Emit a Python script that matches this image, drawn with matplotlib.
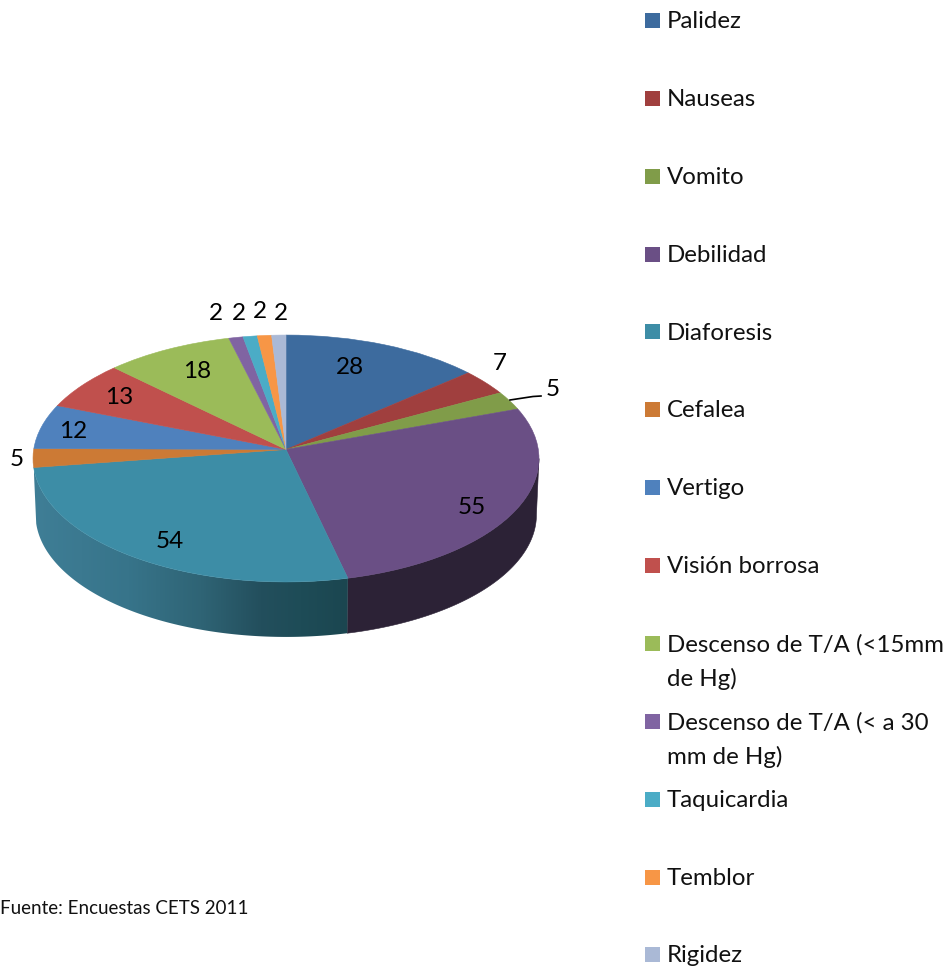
import numpy as np
import matplotlib
matplotlib.use("Agg")
import matplotlib.pyplot as plt
from matplotlib.colors import LinearSegmentedColormap
from matplotlib.patches import Polygon, Rectangle
from matplotlib.transforms import Transform

plt.rcParams['font.family'] = ['Lato', 'DejaVu Sans']

# Datos
sintomas = ["Palidez", "Nauseas", "Vomito", "Debilidad", "Diaforesis", "Cefalea",
            "Vertigo", "Visión borrosa", "Descenso de T/A (<15mm\nde Hg)",
            "Descenso de T/A (< a 30\nmm de Hg)", "Taquicardia", "Temblor", "Rigidez"]
casos = [28, 7, 5, 55, 54, 5, 12, 13, 18, 2, 2, 2, 2]

colores = ["#3D6B9E", "#A03F3E", "#809C49", "#6A4F85", "#3D8DA6", "#CC7A35", "#4F81BD",
           "#C0504D", "#9BBB59", "#8064A2", "#4BACC6", "#F79646", "#AAB9D6"]

# posicion de las etiquetas, en pixeles de la imagen
pos_etiquetas = [(350, 368), (500, 363), (553, 390), (472, 508), (170, 542), (17, 460),
                 (73, 432), (119, 398), (197, 372), (216, 314), (239, 314), (260, 312), (281, 314)]

# geometria del pastel en perspectiva
CX, CY = 286, 449.5
A, B, K = 252.3, 122.8, 0.0729
DY, ESCALA = 56.3, 0.99


def proyectar(u, v, escala=1.0, dy=0.0):
    w = 1 + K * v
    return CX + escala * A * u / w, CY + dy - escala * B * v / w


class Perspectiva(Transform):
    input_dims = 2
    output_dims = 2
    is_affine = False

    def transform_non_affine(self, values):
        values = np.asarray(values)
        x, y = proyectar(values[:, 0], values[:, 1])
        return np.column_stack([x, y])


def pared(grados0, grados1):
    # contorno de la pared lateral entre dos angulos (desde arriba, sentido horario)
    t = np.radians(np.linspace(grados0, grados1, 200))
    x0, y0 = proyectar(np.sin(t), np.cos(t))
    x1, y1 = proyectar(np.sin(t), np.cos(t), ESCALA, DY)
    return np.vstack([np.column_stack([x0, y0]), np.column_stack([x1, y1])[::-1]])


fig = plt.figure(figsize=(9.49, 9.71), dpi=100)
ax = fig.add_axes([0, 0, 1, 1])

wedges, _ = ax.pie(casos, colors=colores, startangle=90, counterclock=False, radius=1,
                   wedgeprops={"linewidth": 0.4, "zorder": 3})
for w, c in zip(wedges, colores):
    w.set_edgecolor(c)
    w.set_transform(Perspectiva() + ax.transData)

# pared lateral del pastel
acum = np.cumsum(casos) / sum(casos) * 360
ax.add_patch(Polygon(pared(94.2, acum[3]), closed=True, facecolor="#2C2236", edgecolor="#2C2236",
                     linewidth=0.4, zorder=2))

grad_diaforesis = LinearSegmentedColormap.from_list(
    "diaf", [(0.0, "#3F7E96"), (0.30, "#37748A"), (0.53, "#2F6475"),
             (0.72, "#234F5D"), (0.85, "#1E4C57"), (1.0, "#1B4650")])
contorno = pared(acum[3], acum[4])
x_min, x_max = contorno[:, 0].min(), proyectar(np.sin(np.radians(acum[3])), np.cos(np.radians(acum[3])))[0]
imagen = ax.imshow(np.linspace(0, 1, 256)[None, :], cmap=grad_diaforesis, aspect='auto',
                   extent=(x_min, x_max, 650, 440), zorder=2)
parche = Polygon(contorno, closed=True, facecolor='none', edgecolor='none', zorder=2)
ax.add_patch(parche)
imagen.set_clip_path(parche)

ax.set_aspect('auto')
ax.set_xlim(0, 949)
ax.set_ylim(971, 0)
ax.axis('off')

# etiquetas de datos
for valor, (px, py) in zip(casos, pos_etiquetas):
    ax.text(px, py, str(valor), fontsize=17.5, ha='center', va='center', color='black', zorder=5)
ax.plot([510, 533, 541], [400, 396.5, 396], color='black', lw=1.2, zorder=5)

# leyenda
paso = (955 - 20.5) / 12
for i, (nombre, c) in enumerate(zip(sintomas, colores)):
    yc = 20.5 + i * paso
    ax.add_patch(Rectangle((645, yc - 7.5), 15, 15, facecolor=c, edgecolor='none', zorder=4))
    if "\n" in nombre:
        ax.text(667, yc - 9, nombre, fontsize=17.3, va='top', ha='left', color='#111111',
                linespacing=1.65, zorder=5)
    else:
        ax.text(667, yc + 1, nombre, fontsize=17.3, va='center', ha='left', color='#111111', zorder=5)

ax.text(0, 908, "Fuente: Encuestas CETS 2011", fontsize=13.5, va='center', ha='left',
        color='#111111', zorder=5)

fig.savefig("out.png", dpi=100, facecolor='white')
